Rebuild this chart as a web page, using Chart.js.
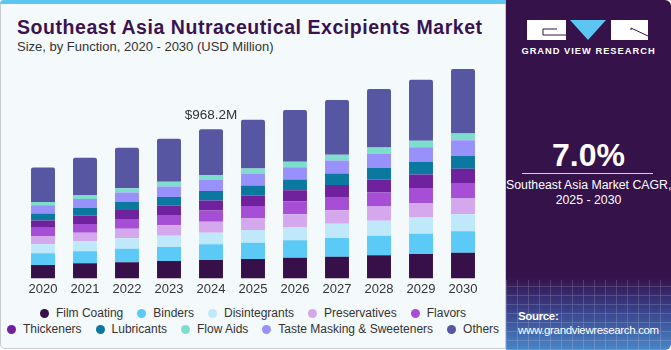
<!DOCTYPE html>
<html>
<head>
<meta charset="utf-8">
<script src="https://cdn.jsdelivr.net/npm/chart.js@4.4.1/dist/chart.umd.min.js"></script>
<style>
  body { margin: 0; background: #fff; font-family: "Liberation Sans", Arial, sans-serif; }
  #wrap { position: relative; width: 671px; height: 350px; overflow: hidden; }
  #left { position: absolute; left: 0; top: 0; width: 504px; height: 348px; background: #f4f9fc;
          border: 1px solid #c8ccd0; border-top: none; border-radius: 5px 0 0 5px; }
  #strip { position: absolute; left: 0; top: 0; width: 506px; height: 4px; background: #5cc6f2; border-radius: 4px 0 0 0; }
  #title { position: absolute; left: 17px; top: 16px; font-size: 19.5px; letter-spacing: 0.55px; font-weight: bold; color: #3a1350; white-space: nowrap; }
  #sub { position: absolute; left: 17px; top: 39px; font-size: 13px; color: #333; white-space: nowrap; }
  #chartBox { position: absolute; left: 0; top: 60px; width: 500px; height: 243px; }
  #legend { position: absolute; left: 0; top: 305px; width: 506px; font-size: 12px; color: #333; }
  .row { display: flex; justify-content: center; height: 16px; align-items: center; }
  .item { display: flex; align-items: center; margin: 0 7px; white-space: nowrap; }
  .dot { width: 9px; height: 9px; border-radius: 50%; margin-right: 7px; }
  #right { position: absolute; left: 506px; top: 0; width: 165px; height: 350px; border-radius: 0 6px 6px 0;
           background: linear-gradient(to bottom, #35124a 0%, #35124a 79%, #3a3f86 88%, #4a86c8 100%); overflow: hidden; }
  #grid { position: absolute; left: 0; top: 280px; width: 165px; height: 70px; opacity: 0.25;
          background-image: repeating-linear-gradient(90deg, rgba(255,255,255,0.6) 0 1px, transparent 1px 11px),
                            repeating-linear-gradient(0deg, rgba(255,255,255,0.6) 0 1px, transparent 1px 9px); }
  #brand { position: absolute; left: 0; top: 46px; width: 165px; text-align: center; color: #fff; font-size: 9.3px; font-weight: bold; letter-spacing: 1px; }
  #cagr { position: absolute; left: 0; top: 137px; width: 165px; text-align: center; color: #fff; font-size: 32px; font-weight: bold; }
  #hr { position: absolute; left: 16px; top: 173px; width: 131px; height: 1px; background: #d8d0e0; }
  #cagrTxt { position: absolute; left: 0; top: 178px; width: 165px; text-align: center; color: #fff; font-size: 12.3px; line-height: 15px; white-space: nowrap; }
  #src { position: absolute; left: 12px; top: 309px; color: #fff; font-size: 11.5px; letter-spacing: -0.35px; line-height: 14px; white-space: nowrap; }
</style>
</head>
<body>
<div id="wrap">
  <div id="left"></div>
  <div id="strip"></div>
  <div id="title">Southeast Asia Nutraceutical Excipients Market</div>
  <div id="sub">Size, by Function, 2020 - 2030 (USD Million)</div>
  <div id="chartBox"><canvas id="chart"></canvas></div>
  <div id="legend"></div>
  <div id="right">
    <div id="grid"></div>
    <svg style="position:absolute;left:21px;top:20px" width="121" height="21" viewBox="0 0 121 21">
      <rect x="0" y="0" width="39" height="20" fill="#fff"/>
      <path d="M16 9 H30 M16 9 V15 H39" stroke="#35124a" stroke-width="1" fill="none"/>
      <polygon points="43,0 79,0 61,20" fill="#5cc6f2"/>
      <rect x="84" y="0" width="37" height="20" fill="#fff"/>
      <path d="M104 8 L121 16 M104 8 V10" stroke="#35124a" stroke-width="1" fill="none"/>
    </svg>
    <div id="brand">GRAND VIEW RESEARCH</div>
    <div id="cagr">7.0%</div>
    <div id="hr"></div>
    <div id="cagrTxt">Southeast Asia Market CAGR,<br>2025 - 2030</div>
    <div id="src"><b>Source:</b><br>www.grandviewresearch.com</div>
  </div>
</div>
<script>
// years and values (USD Million), stacked bottom to top
var years = ['2020', '2021', '2022', '2023', '2024', '2025', '2026', '2027', '2028', '2029', '2030'];
var filmCoating   = [86.7, 97.5, 104.0, 112.7, 119.2, 125.7, 134.3, 140.8, 149.5, 158.2, 166.8];
var binders       = [75.8, 78.0, 88.8, 91.0, 101.8, 106.2, 112.7, 121.3, 127.8, 132.2, 138.7];
var disintegrants = [58.5, 65.0, 67.2, 73.7, 75.8, 82.3, 86.7, 93.2, 97.5, 104.0, 110.5];
var preservatives = [54.2, 56.3, 62.8, 67.2, 71.5, 78.0, 82.3, 86.7, 91.0, 95.3, 101.8];
var flavors       = [54.2, 56.3, 62.8, 67.2, 71.5, 78.0, 82.3, 86.7, 91.0, 97.5, 101.8];
var thickeners    = [45.5, 54.2, 58.5, 60.7, 65.0, 67.2, 73.7, 78.0, 84.5, 86.7, 91.0];
var lubricants    = [45.5, 49.8, 52.0, 56.3, 62.8, 65.0, 69.3, 73.7, 75.8, 82.3, 84.5];
var tasteMasking  = [54.2, 58.5, 60.7, 67.2, 73.7, 78.0, 80.2, 84.5, 91.0, 95.3, 101.8];
var flowAids      = [21.7, 26.0, 28.2, 30.3, 30.3, 32.5, 34.7, 36.8, 41.2, 41.2, 43.3];
var others        = [223.2, 240.5, 262.2, 279.5, 296.6, 316.3, 335.8, 355.3, 379.2, 396.5, 418.2];

var highlightYear = '2024';
var highlightLabel = '$968.2M';

var series = [
    { label: 'Film Coating', data: filmCoating, color: '#37104a' },
    { label: 'Binders', data: binders, color: '#5bcaf6' },
    { label: 'Disintegrants', data: disintegrants, color: '#bfe9fb' },
    { label: 'Preservatives', data: preservatives, color: '#d5a8ee' },
    { label: 'Flavors', data: flavors, color: '#a64fd6' },
    { label: 'Thickeners', data: thickeners, color: '#6f219e' },
    { label: 'Lubricants', data: lubricants, color: '#0b78a0' },
    { label: 'Taste Masking & Sweeteners', data: tasteMasking, color: '#9891fb' },
    { label: 'Flow Aids', data: flowAids, color: '#7ddfcb' },
    { label: 'Others', data: others, color: '#5656a2' }
];
var legendRows = [
    ['Film Coating', 'Binders', 'Disintegrants', 'Preservatives', 'Flavors'],
    ['Thickeners', 'Lubricants', 'Flow Aids', 'Taste Masking & Sweeteners', 'Others']
];

var annotate = {
    id: 'annotate',
    afterDatasetsDraw: function(chart) {
        var i = years.indexOf(highlightYear);
        var total = 0;
        chart.data.datasets.forEach(function(ds) { total += ds.data[i]; });
        var ctx = chart.ctx;
        ctx.save();
        ctx.font = '13.5px "Liberation Sans", Arial, sans-serif';
        ctx.fillStyle = '#333';
        ctx.textAlign = 'center';
        ctx.textBaseline = 'middle';
        ctx.fillText(highlightLabel, chart.scales.x.getPixelForValue(i), chart.scales.y.getPixelForValue(total) - 14);
        ctx.restore();
    }
};

new Chart(document.getElementById('chart'), {
    type: 'bar',
    data: {
        labels: years,
        datasets: series.map(function(s, k) {
            return {
                label: s.label,
                data: s.data,
                backgroundColor: s.color,
                borderWidth: 0,
                borderRadius: k === series.length - 1 ? { topLeft: 2, topRight: 2 } : 0,
                borderSkipped: false
            };
        })
    },
    options: {
        responsive: true,
        maintainAspectRatio: false,
        animation: false,
        categoryPercentage: 1,
        barPercentage: 0.57,
        layout: { padding: { left: 22, right: 16, top: 8, bottom: 3 } },
        plugins: { legend: { display: false }, tooltip: { enabled: false } },
        scales: {
            x: {
                stacked: true,
                grid: { display: false, drawTicks: false },
                border: { display: false },
                ticks: { color: '#333', font: { size: 13, family: '"Liberation Sans", Arial, sans-serif' }, padding: 3 }
            },
            y: { stacked: true, display: false, min: 0, max: 1365 }
        }
    },
    plugins: [annotate]
});

var legend = document.getElementById('legend');
legendRows.forEach(function(names) {
    var row = document.createElement('div');
    row.className = 'row';
    names.forEach(function(name) {
        var s = series.filter(function(x) { return x.label === name; })[0];
        var item = document.createElement('div');
        item.className = 'item';
        item.innerHTML = '<span class="dot" style="background:' + s.color + '"></span>' + name;
        row.appendChild(item);
    });
    legend.appendChild(row);
});
</script>
</body>
</html>
